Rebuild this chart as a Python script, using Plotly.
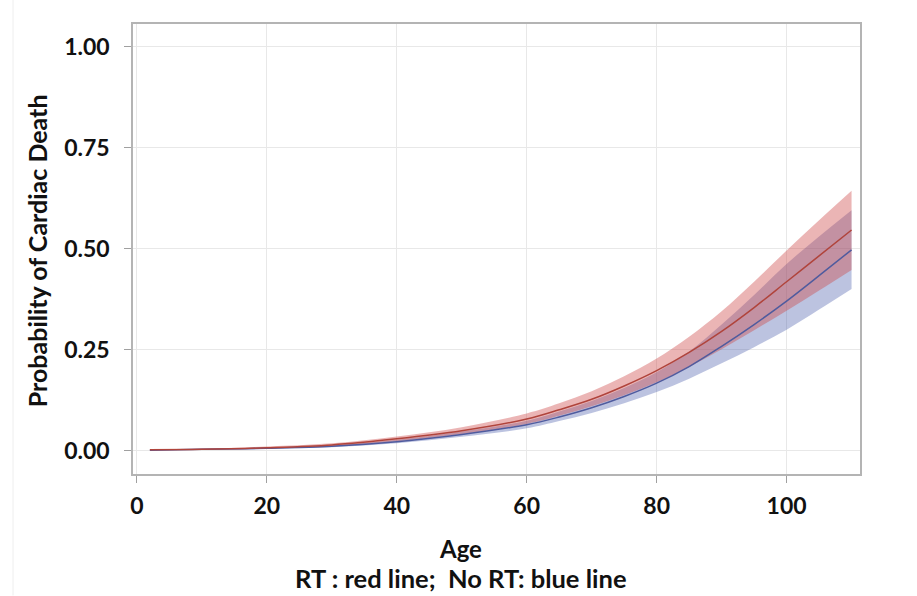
import plotly.graph_objects as go

ages = [2, 10, 20, 30, 40, 50, 60, 65, 70, 75, 80, 85, 90, 95, 100, 105, 110]
rt_mid = [0.002, 0.003, 0.007, 0.014, 0.029, 0.049, 0.078, 0.101, 0.127, 0.160, 0.198, 0.243, 0.295, 0.354, 0.418, 0.482, 0.546]
rt_lo  = [0.001, 0.002, 0.005, 0.010, 0.023, 0.041, 0.066, 0.086, 0.110, 0.137, 0.169, 0.207, 0.251, 0.298, 0.346, 0.396, 0.447]
rt_hi  = [0.003, 0.005, 0.010, 0.018, 0.035, 0.058, 0.092, 0.117, 0.147, 0.184, 0.228, 0.282, 0.345, 0.418, 0.495, 0.570, 0.643]
nort_mid = [0.001, 0.003, 0.006, 0.011, 0.022, 0.040, 0.064, 0.083, 0.106, 0.134, 0.167, 0.208, 0.258, 0.312, 0.370, 0.433, 0.497]
nort_lo  = [0.001, 0.002, 0.004, 0.008, 0.018, 0.034, 0.055, 0.073, 0.093, 0.117, 0.145, 0.178, 0.216, 0.256, 0.299, 0.349, 0.400]
nort_hi  = [0.002, 0.004, 0.008, 0.014, 0.027, 0.047, 0.074, 0.097, 0.123, 0.155, 0.194, 0.245, 0.312, 0.385, 0.462, 0.530, 0.595]

x_ticks = [0, 20, 40, 60, 80, 100]
y_ticks = [0.0, 0.25, 0.5, 0.75, 1.0]
y_tick_text = ["0.00", "0.25", "0.50", "0.75", "1.00"]

RED_LINE = "#b0443c"
BLUE_LINE = "#4f5b9e"
RED_FILL = "rgba(205,70,70,0.40)"
BLUE_FILL = "rgba(70,90,170,0.36)"

FONT = "Lato"
INK = "#111111"


def band(lo, hi, color):
    return [
        go.Scatter(x=ages, y=lo, mode="lines", line=dict(width=0, shape="spline"),
                   hoverinfo="skip", showlegend=False),
        go.Scatter(x=ages, y=hi, mode="lines", line=dict(width=0, shape="spline"),
                   fill="tonexty", fillcolor=color, hoverinfo="skip", showlegend=False),
    ]


fig = go.Figure()
for tr in band(nort_lo, nort_hi, BLUE_FILL):
    fig.add_trace(tr)
for tr in band(rt_lo, rt_hi, RED_FILL):
    fig.add_trace(tr)
fig.add_trace(go.Scatter(
    x=ages, y=nort_mid, mode="lines",
    line=dict(color=BLUE_LINE, width=1.5, shape="spline"), showlegend=False, name="No RT"))
fig.add_trace(go.Scatter(
    x=ages, y=rt_mid, mode="lines",
    line=dict(color=RED_LINE, width=1.5, shape="spline"), showlegend=False, name="RT"))

axis_common = dict(
    showline=True, linecolor="#b4b4b4", linewidth=1.5, mirror=True,
    showgrid=True, gridcolor="#e8e8e8", gridwidth=1,
    ticks="outside", ticklen=7, tickcolor="#a0a0a0", tickwidth=1,
    zeroline=False,
    tickfont=dict(family=FONT, size=23, color=INK, weight="bold"),
)

title_font = dict(family=FONT, size=24, color=INK, weight="bold")

fig.update_layout(
    width=917, height=596,
    margin=dict(l=133, r=57, t=24, b=122),
    paper_bgcolor="white", plot_bgcolor="white",
    font=dict(family=FONT, color=INK),
    xaxis=dict(range=[-0.6, 111.3], tickvals=x_ticks, ticklabelstandoff=4, **axis_common),
    yaxis=dict(range=[-0.058, 1.056], tickvals=y_ticks, ticktext=y_tick_text,
               ticklabelstandoff=10, **axis_common),
    annotations=[
        dict(text="Probability of Cardiac Death", xref="paper", yref="paper",
             x=-0.132, y=0.495, textangle=-90, xanchor="center", yanchor="middle",
             showarrow=False, font=dict(family=FONT, size=25, color=INK, weight="bold")),
        dict(text="Age", xref="paper", yref="paper", x=0.451, y=-0.165,
             xanchor="center", yanchor="middle", showarrow=False, font=title_font),
        dict(text="RT : red line;\u00a0 No RT: blue line", xref="paper", yref="paper",
             x=0.451, y=-0.232, xanchor="center", yanchor="middle", showarrow=False,
             font=dict(family=FONT, size=25.5, color=INK, weight="bold")),
    ],
    shapes=[dict(type="line", xref="paper", yref="paper", x0=-0.165, x1=-0.165,
                 y0=-0.27, y1=1.06, line=dict(color="#eeeeee", width=1))],
)

fig.write_html("out.html")
